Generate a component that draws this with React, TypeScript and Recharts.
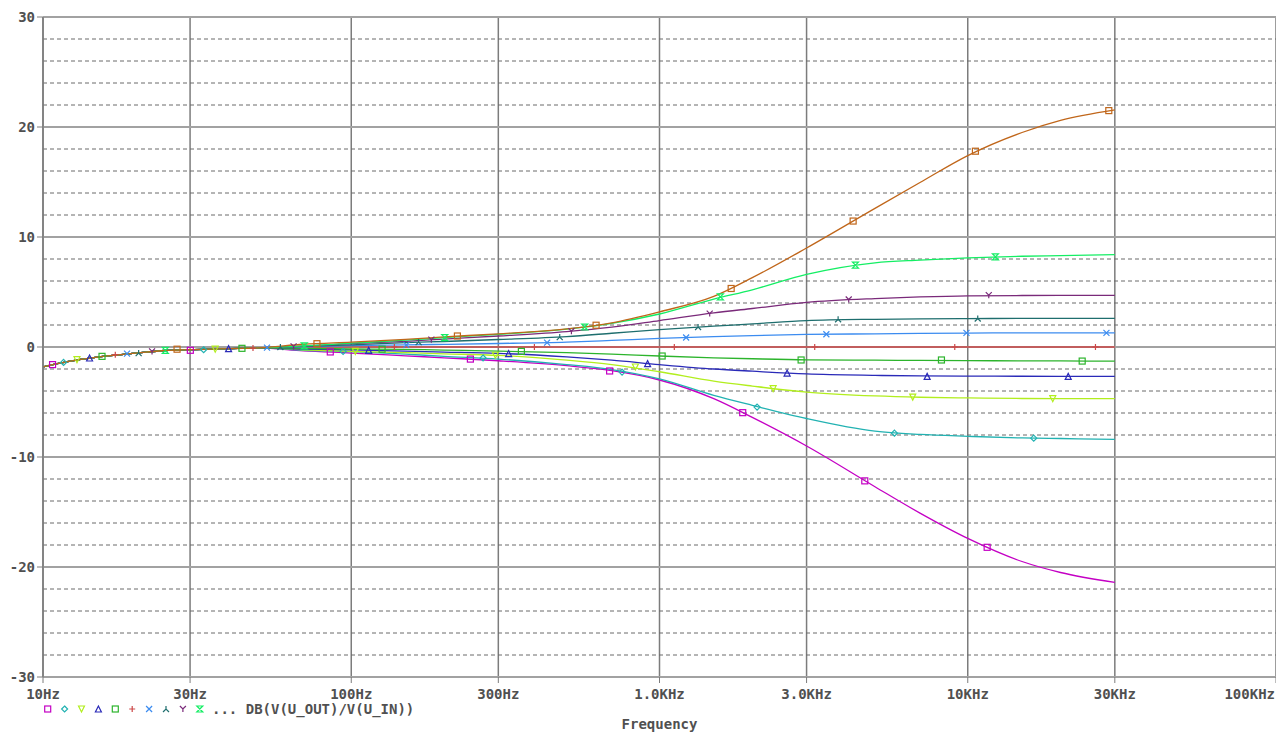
import React from "react";
import {
  ComposedChart,
  Line,
  Scatter,
  XAxis,
  YAxis,
  CartesianGrid,
  ReferenceLine,
  Legend,
  Label,
} from "recharts";

// sample frequencies (Hz) for the traces
const freqs = [
  10, 12, 15, 20, 25, 30, 40, 50, 70, 100, 150, 200, 300, 500, 700, 1000, 1500,
  2000, 3000, 5000, 7000, 10000, 15000, 20000, 30000,
];

// all eleven traces share the same low-frequency roll-off up to ~50Hz
const lowEnd = [-1.8, -1.33, -0.92, -0.56, -0.32, -0.25, -0.15, -0.08];

const gainMagenta = [...lowEnd, -0.35, -0.55, -0.8, -0.98, -1.25, -1.7, -2.15, -3.0, -4.7, -6.4, -9.0, -12.7, -15.1, -17.4, -19.5, -20.5, -21.4];
const gainCyan = [...lowEnd, -0.3, -0.42, -0.65, -0.85, -1.1, -1.6, -2.05, -2.9, -4.4, -5.3, -6.5, -7.65, -7.95, -8.12, -8.27, -8.32, -8.4];
const gainYellow = [...lowEnd, -0.25, -0.4, -0.52, -0.62, -0.77, -1.2, -1.6, -2.25, -3.1, -3.55, -4.1, -4.45, -4.57, -4.63, -4.68, -4.7, -4.7];
const gainBlue = [...lowEnd, -0.18, -0.27, -0.38, -0.46, -0.58, -0.9, -1.2, -1.6, -2.0, -2.2, -2.45, -2.58, -2.63, -2.65, -2.66, -2.67, -2.67];
const gainGreen = [...lowEnd, -0.12, -0.18, -0.22, -0.28, -0.37, -0.52, -0.64, -0.82, -0.98, -1.07, -1.17, -1.2, -1.22, -1.24, -1.26, -1.27, -1.28];
const gainRed = [...lowEnd, 0, 0, 0, 0, 0, 0, 0, 0, 0, 0, 0, 0, 0, 0, 0, 0, 0];
const gainSky = [...lowEnd, 0.02, 0.12, 0.2, 0.24, 0.32, 0.45, 0.6, 0.78, 0.95, 1.04, 1.14, 1.2, 1.24, 1.27, 1.28, 1.28, 1.28];
const gainTeal = [...lowEnd, 0.05, 0.2, 0.4, 0.5, 0.68, 0.95, 1.25, 1.58, 1.9, 2.1, 2.4, 2.52, 2.56, 2.58, 2.6, 2.6, 2.6];
const gainPurple = [...lowEnd, 0.08, 0.3, 0.52, 0.72, 1.0, 1.4, 1.8, 2.4, 3.1, 3.5, 4.05, 4.4, 4.55, 4.65, 4.68, 4.7, 4.7];
const gainMint = [...lowEnd, 0.1, 0.35, 0.62, 0.85, 1.15, 1.62, 2.15, 3.0, 4.35, 5.2, 6.6, 7.65, 7.9, 8.1, 8.25, 8.3, 8.4];
const gainOrange = [...lowEnd, 0.25, 0.45, 0.7, 0.92, 1.2, 1.65, 2.2, 3.2, 4.6, 6.3, 9.0, 12.6, 14.95, 17.4, 19.5, 20.6, 21.55];

// trace symbols as placed by the simulator: [frequency, dB]
const marksMagenta = [[10.74, -1.6], [30.06, -0.3], [85.5, -0.45], [243.5, -1.1], [689, -2.18], [1862, -5.97], [4634, -12.17], [11560, -18.21]];
const marksCyan = [[11.66, -1.4], [33.2, -0.25], [94.1, -0.4], [267.7, -1.0], [756, -2.28], [2073, -5.46], [5783, -7.83], [16370, -8.29]];
const marksYellow = [[12.89, -1.15], [36.2, -0.2], [103.1, -0.4], [293.5, -0.75], [835, -1.82], [2337, -3.79], [6630, -4.55], [18870, -4.7]];
const marksBlue = [[14.16, -1.0], [40, -0.15], [113.9, -0.3], [324, -0.6], [915, -1.51], [2594, -2.37], [7384, -2.67], [21180, -2.67]];
const marksGreen = [[15.54, -0.85], [44.2, -0.12], [125.9, -0.2], [356.4, -0.4], [1020, -0.82], [2880, -1.18], [8216, -1.18], [23510, -1.28]];
const marksRed = [[17.16, -0.7], [48, -0.1], [138, 0], [392.8, 0], [1117, 0], [3188, 0], [9075, 0], [25960, 0]];
const marksSky = [[18.73, -0.6], [53.3, -0.05], [151, 0.2], [431.8, 0.4], [1220, 0.86], [3478, 1.16], [9904, 1.28], [28180, 1.28]];
const marksTeal = [[20.43, -0.55], [58.9, 0], [165.4, 0.45], [474.6, 0.9], [1334, 1.82], [3797, 2.52], [10775, 2.59]];
const marksPurple = [[22.58, -0.4], [65, 0.05], [181.9, 0.67], [517.9, 1.43], [1455, 3.04], [4110, 4.32], [11700, 4.71]];
const marksMint = [[24.94, -0.3], [70.4, 0.1], [201, 0.85], [571.9, 1.82], [1576, 4.55], [4322, 7.44], [12296, 8.2]];
const marksOrange = [[27.22, -0.2], [77.4, 0.3], [221, 1.0], [622.7, 1.98], [1708, 5.32], [4248, 11.45], [10590, 17.8], [28680, 21.49]];

const xTicks = [10, 30, 100, 300, 1000, 3000, 10000, 30000, 100000];
const xTickLabels = ["10Hz", "30Hz", "100Hz", "300Hz", "1.0KHz", "3.0KHz", "10KHz", "30KHz", "100KHz"];
const yTicks = [-30, -20, -10, 0, 10, 20, 30];
const yMinor = [-28, -26, -24, -22, -18, -16, -14, -12, -8, -6, -4, -2, 2, 4, 6, 8, 12, 14, 16, 18, 22, 24, 26, 28];

type Shape = "square" | "diamond" | "tdown" | "tup" | "plus" | "cross" | "lambda" | "ystem" | "hour";

type Trace = {
  key: string;
  color: string;
  shape: Shape;
  values: number[];
  marks: number[][];
};

const traces: Trace[] = [
  { key: "magenta", color: "#c400c4", shape: "square", values: gainMagenta, marks: marksMagenta },
  { key: "cyan", color: "#22b2b2", shape: "diamond", values: gainCyan, marks: marksCyan },
  { key: "yellow", color: "#b2ee1e", shape: "tdown", values: gainYellow, marks: marksYellow },
  { key: "blue", color: "#2a2ab8", shape: "tup", values: gainBlue, marks: marksBlue },
  { key: "green", color: "#2cb42c", shape: "square", values: gainGreen, marks: marksGreen },
  { key: "red", color: "#cc4848", shape: "plus", values: gainRed, marks: marksRed },
  { key: "sky", color: "#3c8cf0", shape: "cross", values: gainSky, marks: marksSky },
  { key: "teal", color: "#1e6e6e", shape: "lambda", values: gainTeal, marks: marksTeal },
  { key: "purple", color: "#7a2a7a", shape: "ystem", values: gainPurple, marks: marksPurple },
  { key: "mint", color: "#14ee64", shape: "hour", values: gainMint, marks: marksMint },
  { key: "orange", color: "#c0661a", shape: "square", values: gainOrange, marks: marksOrange },
];

const rows = freqs.map((f, i) => {
  const r: Record<string, number> = { f };
  traces.forEach((t) => {
    r[t.key] = t.values[i];
  });
  return r;
});

const mono = "'DejaVu Sans Mono', 'Liberation Mono', monospace";
const textGray = "#505050";

function Marker({ cx, cy, shape, color }: { cx: number; cy: number; shape: Shape; color: string }) {
  const r = 3;
  const common = { fill: "none", stroke: color, strokeWidth: 1.2 };
  switch (shape) {
    case "square":
      return <rect x={cx - r} y={cy - r} width={r * 2} height={r * 2} {...common} />;
    case "diamond":
      return <path d={`M${cx},${cy - r} L${cx + r},${cy} L${cx},${cy + r} L${cx - r},${cy} Z`} {...common} />;
    case "tdown":
      return <path d={`M${cx - r},${cy - r} L${cx + r},${cy - r} L${cx},${cy + r} Z`} {...common} />;
    case "tup":
      return <path d={`M${cx - r},${cy + r} L${cx + r},${cy + r} L${cx},${cy - r} Z`} {...common} />;
    case "plus":
      return <path d={`M${cx - r},${cy} H${cx + r} M${cx},${cy - r} V${cy + r}`} {...common} />;
    case "cross":
      return <path d={`M${cx - r},${cy - r} L${cx + r},${cy + r} M${cx + r},${cy - r} L${cx - r},${cy + r}`} {...common} />;
    case "lambda":
      return <path d={`M${cx},${cy - r} V${cy} M${cx - r},${cy + r} L${cx},${cy} L${cx + r},${cy + r}`} {...common} />;
    case "ystem":
      return <path d={`M${cx - r},${cy - r} L${cx},${cy} L${cx + r},${cy - r} M${cx},${cy} V${cy + r}`} {...common} />;
    case "hour":
      return <path d={`M${cx - r},${cy - r} H${cx + r} L${cx - r},${cy + r} H${cx + r} Z`} {...common} />;
  }
  return null;
}

function FreqTick(props: any) {
  const { x, y, payload } = props;
  const i = xTicks.indexOf(payload.value);
  const last = i === xTicks.length - 1;
  return (
    <text
      x={last ? x - 1 : x}
      y={y + 9.5}
      textAnchor={last ? "end" : "middle"}
      fontFamily={mono}
      fontWeight="bold"
      fontSize={14}
      fill={textGray}
    >
      {xTickLabels[i]}
    </text>
  );
}

function TraceLegend() {
  return (
    <svg width={460} height={22}>
      {traces.slice(0, 10).map((t, i) => (
        <Marker key={t.key} cx={47.7 + i * 16.9} cy={10} shape={t.shape} color={t.color} />
      ))}
      <text x={212} y={14.5} fontFamily={mono} fontWeight="bold" fontSize={14} fill={textGray}>
        ... DB(V(U_OUT)/V(U_IN))
      </text>
    </svg>
  );
}

export default function App() {
  return (
    <div style={{ position: "absolute", left: 0, top: 0, width: 1276, height: 733, background: "#fff" }}>
      <ComposedChart width={1276} height={733} data={rows} margin={{ top: 17, right: 0, bottom: 0, left: 0 }}>
        <CartesianGrid horizontal={false} stroke="#7c7c7c" strokeWidth={1.5} />
        <CartesianGrid vertical={false} stroke="#a2a2a2" strokeWidth={2} />
        {yMinor.map((v) => (
          <ReferenceLine key={v} y={v} stroke="#6a6a6a" strokeWidth={1} strokeDasharray="4 3" />
        ))}
        <XAxis
          dataKey="f"
          type="number"
          scale="log"
          domain={[10, 100000]}
          ticks={xTicks}
          interval={0}
          allowDataOverflow
          height={56}
          tickSize={6}
          tickMargin={6}
          tick={<FreqTick />}
          axisLine={{ stroke: "#a2a2a2", strokeWidth: 2 }}
          tickLine={{ stroke: "#7c7c7c" }}
        >
          <Label
            value="Frequency"
            position="insideBottom"
            offset={4}
            style={{ fontFamily: mono, fontWeight: "bold", fontSize: 14, fill: textGray }}
          />
        </XAxis>
        <YAxis
          type="number"
          domain={[-30, 30]}
          ticks={yTicks}
          interval={0}
          width={43}
          tickSize={6}
          tickMargin={2}
          tick={{ fontFamily: mono, fontWeight: "bold", fontSize: 14, fill: textGray }}
          axisLine={{ stroke: "#7c7c7c", strokeWidth: 1.5 }}
          tickLine={{ stroke: "#7c7c7c" }}
        />
        {traces.map((t) => (
          <Line
            key={t.key}
            dataKey={t.key}
            type="monotone"
            stroke={t.color}
            strokeWidth={1.3}
            dot={false}
            activeDot={false}
            isAnimationActive={false}
          />
        ))}
        {traces.map((t) => (
          <Scatter
            key={"m-" + t.key}
            data={t.marks.map(([f, v]) => ({ f, v }))}
            dataKey="v"
            isAnimationActive={false}
            shape={(p: any) => <Marker cx={p.cx} cy={p.cy} shape={t.shape} color={t.color} />}
          />
        ))}
        <Legend
          layout="horizontal"
          verticalAlign="middle"
          align="center"
          content={() => <TraceLegend />}
          wrapperStyle={{ left: 0, top: 699, width: 460, height: 22 }}
        />
      </ComposedChart>
    </div>
  );
}
